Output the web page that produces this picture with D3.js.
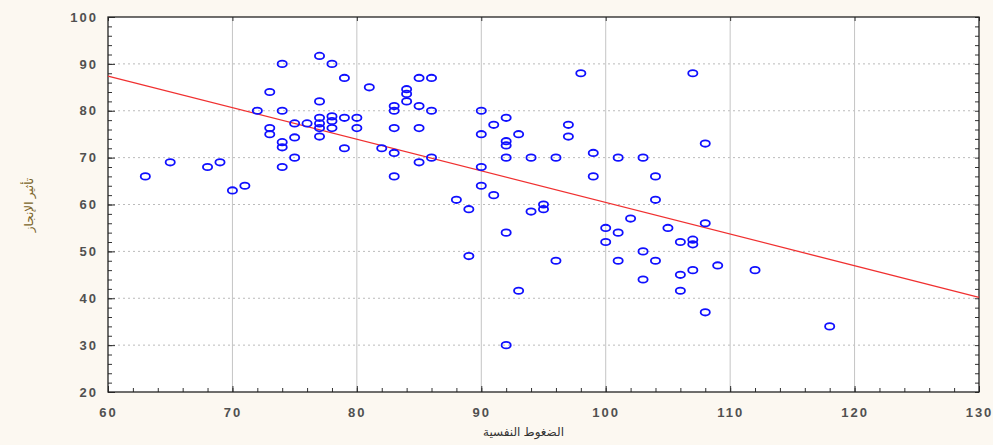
<!DOCTYPE html>
<html>
<head>
<meta charset="utf-8">
<script src="https://cdn.jsdelivr.net/npm/d3@7"></script>
<style>
  body { margin: 0; background: #fcf8f1; }
  svg { display: block; }
  .tick text { font-family: "Liberation Sans", Arial, sans-serif; font-weight: bold; font-size: 13px; letter-spacing: 2px; fill: #505050; }
</style>
</head>
<body>
<div id="chart"></div>
<script>
// values
var stressX = [63, 65, 68, 69, 70, 71, 72, 73, 73, 73, 74, 74, 74, 74, 74, 75, 75, 75, 76,
  77, 77, 77, 77, 77, 77, 78, 78, 78, 78, 79, 79, 79, 80, 80, 81, 82, 83, 83, 83, 83, 83,
  84, 84, 84, 85, 85, 85, 85, 86, 86, 86, 88, 89, 89, 90, 90, 90, 90, 91, 91, 92, 92, 92,
  92, 92, 92, 93, 93, 94, 94, 95, 95, 96, 96, 97, 97, 98, 99, 99, 100, 100, 101, 101, 101,
  102, 103, 103, 103, 104, 104, 104, 105, 106, 106, 106, 107, 107, 107, 107, 108, 108, 108,
  109, 112, 118];
var achieveY = [66, 69, 68, 69, 63, 64, 80, 84, 76.3, 75, 90, 80, 73.3, 72.2, 68, 77.3, 74.3, 70, 77.3,
  91.7, 82, 78.5, 77.3, 76.3, 74.5, 90, 78.8, 77.8, 76.3, 87, 78.5, 72, 78.5, 76.3, 85, 72, 81, 80, 76.3, 71, 66,
  84.6, 83.6, 82, 87, 81, 76.3, 69, 87, 80, 70, 61, 59, 49, 80, 75, 68, 64, 77, 62, 78.5, 73.5, 72.6,
  70, 54, 30, 75, 41.6, 70, 58.5, 60, 59, 70, 48, 77, 74.5, 88, 71, 66, 55, 52, 70, 54, 48,
  57, 70, 50, 44, 66, 61, 48, 55, 52, 45, 41.6, 88, 52.5, 51.5, 46, 73, 56, 37,
  47, 46, 34];

// fitted line end points
var fitX = [60, 130];
var fitY = [87.4, 40.2];

var xTicks = [60, 70, 80, 90, 100, 110, 120, 130];
var yTicks = [20, 30, 40, 50, 60, 70, 80, 90, 100];

var xTitle = 'الضغوط النفسية';
var yTitle = 'تأثير الإنجاز';

var svgWidth = 993, svgHeight = 445;
var plotLeft = 108, plotRight = 979, plotTop = 17, plotBottom = 392;

var svg = d3.select('#chart').append('svg')
    .attr('width', svgWidth)
    .attr('height', svgHeight);

var x = d3.scaleLinear().domain([60, 130]).range([plotLeft, plotRight]);
var y = d3.scaleLinear().domain([20, 100]).range([plotBottom, plotTop]);

// plot area
svg.append('rect')
    .attr('x', plotLeft).attr('y', plotTop)
    .attr('width', plotRight - plotLeft).attr('height', plotBottom - plotTop)
    .attr('fill', '#fff');

// grid
svg.append('g').selectAll('line')
    .data(yTicks.slice(1, -1))
    .enter().append('line')
    .attr('x1', plotLeft).attr('x2', plotRight)
    .attr('y1', d => y(d)).attr('y2', d => y(d))
    .attr('stroke', '#bbb')
    .attr('stroke-dasharray', '2,3');

svg.append('g').selectAll('line')
    .data(xTicks.slice(1, -1))
    .enter().append('line')
    .attr('x1', d => x(d)).attr('x2', d => x(d))
    .attr('y1', plotTop).attr('y2', plotBottom)
    .attr('stroke', '#c4c4c4');

// axes with inner ticks
var xMinor = d3.range(60, 131, 2);
var yMinor = d3.range(20, 101, 2);

svg.append('g')
    .attr('transform', `translate(0,${plotBottom})`)
    .call(d3.axisBottom(x).tickValues(xMinor).tickSize(-4).tickFormat(''))
    .call(g => g.select('.domain').remove());
svg.append('g')
    .attr('transform', `translate(0,${plotBottom})`)
    .call(d3.axisBottom(x).tickValues(xTicks).tickSize(-6).tickPadding(16))
    .call(g => g.select('.domain').remove());
svg.append('g')
    .attr('transform', `translate(0,${plotTop})`)
    .call(d3.axisTop(x).tickValues(xTicks).tickSize(-4).tickFormat(''))
    .call(g => g.select('.domain').remove());

svg.append('g')
    .attr('transform', `translate(${plotLeft},0)`)
    .call(d3.axisLeft(y).tickValues(yMinor).tickSize(-4).tickFormat(''))
    .call(g => g.select('.domain').remove());
svg.append('g')
    .attr('transform', `translate(${plotLeft},0)`)
    .call(d3.axisLeft(y).tickValues(yTicks).tickSize(-7).tickPadding(10))
    .call(g => g.select('.domain').remove());
svg.append('g')
    .attr('transform', `translate(${plotRight},0)`)
    .call(d3.axisRight(y).tickValues(yMinor).tickSize(-4).tickFormat(''))
    .call(g => g.select('.domain').remove());

svg.selectAll('.tick line').attr('stroke', '#333');

// frame
svg.append('rect')
    .attr('x', plotLeft).attr('y', plotTop)
    .attr('width', plotRight - plotLeft).attr('height', plotBottom - plotTop)
    .attr('fill', 'none')
    .attr('stroke', '#222')
    .attr('stroke-width', 1.3);

// fitted line
var line = d3.line().x(d => x(d[0])).y(d => y(d[1]));
svg.append('path')
    .datum(d3.zip(fitX, fitY))
    .attr('d', line)
    .attr('fill', 'none')
    .attr('stroke', '#f03030')
    .attr('stroke-width', 1.3);

// points
svg.append('g').selectAll('ellipse')
    .data(d3.zip(stressX, achieveY))
    .enter().append('ellipse')
    .attr('cx', d => x(d[0]))
    .attr('cy', d => y(d[1]))
    .attr('rx', 4.6)
    .attr('ry', 3.2)
    .attr('fill', 'none')
    .attr('stroke', '#1010ff')
    .attr('stroke-width', 1.8);

// titles
svg.append('text')
    .attr('x', (plotLeft + plotRight) / 2 - 20)
    .attr('y', 436)
    .attr('text-anchor', 'middle')
    .style('font-family', '"Noto Sans", "DejaVu Sans", sans-serif')
    .style('font-size', '12px')
    .style('fill', '#333')
    .text(xTitle);

svg.append('text')
    .attr('transform', 'translate(33,205) rotate(-90)')
    .attr('text-anchor', 'middle')
    .style('font-family', '"Noto Sans", "DejaVu Sans", sans-serif')
    .style('font-size', '12px')
    .style('fill', '#7a6428')
    .text(yTitle);
</script>
</body>
</html>
